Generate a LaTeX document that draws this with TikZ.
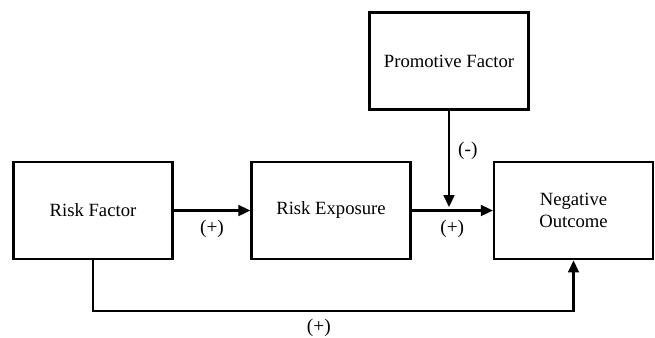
\documentclass[tikz,border=0pt]{standalone}
\usepackage{fontspec}
\setmainfont{Liberation Serif}
\usepackage{tikz}
\usetikzlibrary{arrows.meta,positioning}

\begin{document}
\begin{tikzpicture}[x=0.75pt,y=-0.75pt,>={Triangle[length=9pt,width=8pt]},
  line width=1.8pt,
  factor box/.style={rectangle,draw,fill=white,minimum width=119pt,minimum height=73pt,
    align=center,font=\fontsize{14}{17}\selectfont},
  sign label/.style={font=\fontsize{14.5}{17}\selectfont,inner sep=2pt}]
  \useasboundingbox (0,0) rectangle (655,337);
  \node[factor box] (risk) at (93,210.5) {Risk Factor};
  \node[factor box] (exposure) at (331,210.5) {Risk Exposure};
  \node[factor box] (outcome) at (573.5,210.5) {Negative\\Outcome};
  \node[factor box] (promotive) at (449,61) {Promotive Factor};

  \coordinate (join) at (promotive.south |- exposure.east);
  \coordinate (lowleft) at (risk.south |- 0,311);
  \coordinate (lowright) at (outcome.south |- 0,311);

  \draw[->] (risk.east) -- node[sign label,below=4pt] {(+)} (exposure.west);
  \draw[->] (exposure.east) -- node[sign label,below=4pt] {(+)} (outcome.west);
  \draw[->,shorten >=2.5pt] (promotive.south) -- node[sign label,right=4pt,pos=0.4] {(-)} (join);
  \draw[->] (risk.south) -- (lowleft) -- node[sign label,below=3pt,pos=0.47] {(+)} (lowright) -- (outcome.south);
\end{tikzpicture}
\end{document}
